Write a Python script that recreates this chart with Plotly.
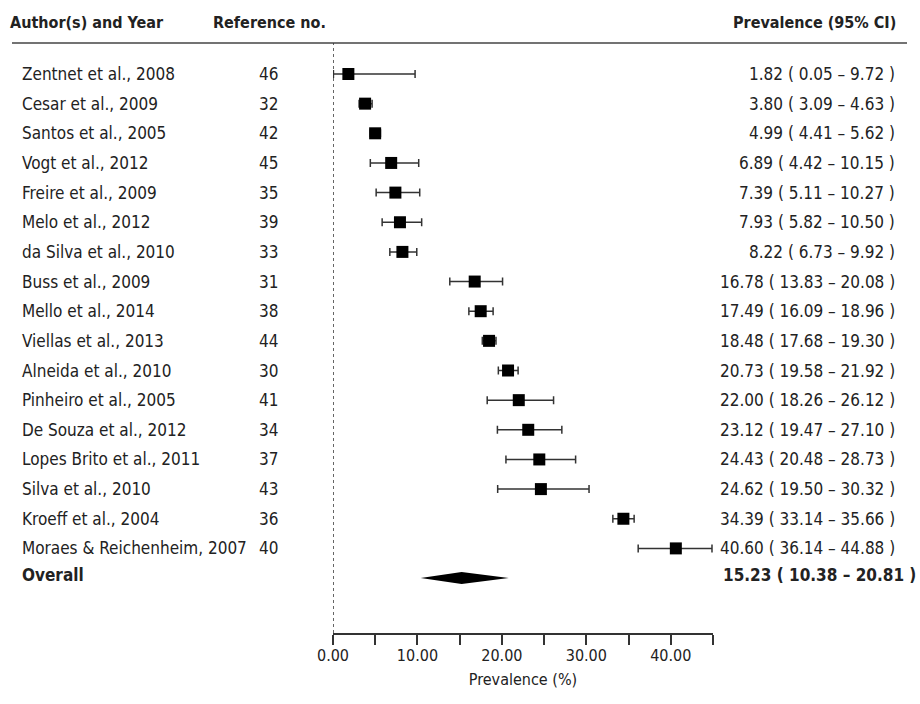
import plotly.graph_objects as go

authors = ["Zentnet et al., 2008", "Cesar et al., 2009", "Santos et al., 2005", "Vogt et al., 2012",
           "Freire et al., 2009", "Melo et al., 2012", "da Silva et al., 2010", "Buss et al., 2009",
           "Mello et al., 2014", "Viellas et al., 2013", "Alneida et al., 2010", "Pinheiro et al., 2005",
           "De Souza et al., 2012", "Lopes Brito et al., 2011", "Silva et al., 2010", "Kroeff et al., 2004",
           "Moraes & Reichenheim, 2007"]
ref_no = [46, 32, 42, 45, 35, 39, 33, 31, 38, 44, 30, 41, 34, 37, 43, 36, 40]
prev = [1.82, 3.80, 4.99, 6.89, 7.39, 7.93, 8.22, 16.78, 17.49, 18.48, 20.73, 22.00, 23.12, 24.43, 24.62, 34.39, 40.60]
ci_low = [0.05, 3.09, 4.41, 4.42, 5.11, 5.82, 6.73, 13.83, 16.09, 17.68, 19.58, 18.26, 19.47, 20.48, 19.50, 33.14, 36.14]
ci_high = [9.72, 4.63, 5.62, 10.15, 10.27, 10.50, 9.92, 20.08, 18.96, 19.30, 21.92, 26.12, 27.10, 28.73, 30.32, 35.66, 44.88]
overall = [15.23, 10.38, 20.81]  # estimate, low, high
tick_values = [0, 5, 10, 15, 20, 25, 30, 35, 40, 45]
tick_labels = ["0.00", "", "10.00", "", "20.00", "", "30.00", "", "40.00", ""]

W, H = 920, 704
TOP, BOTTOM = 43, 633  # plot area edges in px
FONT = "DejaVu Sans Condensed, Liberation Sans Narrow, sans-serif"
TXT = "#222222"
rows = list(range(len(authors)))
overall_row = len(authors)

fig = go.Figure()
fig.add_trace(go.Scatter(
    x=prev, y=rows, mode="markers",
    marker=dict(symbol="square", size=12, color="black"),
    error_x=dict(type="data", symmetric=False,
                 array=[h - p for h, p in zip(ci_high, prev)],
                 arrayminus=[p - l for p, l in zip(prev, ci_low)],
                 color="#333333", thickness=1.5, width=4),
    showlegend=False, hoverinfo="skip"))

est, lo, hi = overall
dh = 0.2
fig.add_trace(go.Scatter(
    x=[lo, est, hi, est, lo], y=[overall_row, overall_row - dh, overall_row, overall_row + dh, overall_row],
    mode="lines", fill="toself", fillcolor="black", line=dict(width=0, color="black"),
    showlegend=False, hoverinfo="skip"))

ann = []
def add(text, px, y, anchor, bold=False, size=17, yshift=0, yref="y"):
    ann.append(dict(text=f"<b>{text}</b>" if bold else text, x=px / W, xref="paper", y=y, yref=yref,
                    xanchor=anchor, yanchor="middle", showarrow=False, yshift=yshift,
                    font=dict(family=FONT, size=size, color=TXT)))

for i in rows:
    add(authors[i], 20, i, "left")
    add(str(ref_no[i]), 268, i, "center")
    add(f"{prev[i]:.2f} ( {ci_low[i]:.2f} – {ci_high[i]:.2f} )", 897, i, "right")
add("Overall", 20, overall_row, "left", bold=True, yshift=3)
add(f"{est:.2f} ( {lo:.2f} – {hi:.2f} )", 918, overall_row, "right", bold=True, yshift=3)

hdr_y = 1 + (TOP - 22) / (BOTTOM - TOP)
add("Author(s) and Year", 8, hdr_y, "left", bold=True, size=16, yref="paper")
add("Reference no.", 211, hdr_y, "left", bold=True, size=16, yref="paper")
add("Prevalence (95% CI)", 898, hdr_y, "right", bold=True, size=16, yref="paper")

fig.update_layout(
    width=W, height=H, autosize=False,
    margin=dict(l=0, r=0, t=TOP, b=H - BOTTOM, pad=0),
    paper_bgcolor="white", plot_bgcolor="white",
    annotations=ann,
    shapes=[
        dict(type="line", xref="paper", yref="paper", x0=12 / W, x1=907 / W, y0=1, y1=1,
             line=dict(color="#444444", width=1.5)),
        dict(type="line", xref="x", yref="paper", x0=0, x1=0, y0=0, y1=1,
             line=dict(color="#333333", width=1.5, dash="dot")),
    ],
    xaxis=dict(domain=[333 / W, 713 / W], range=[0, 45], showgrid=False, zeroline=False,
               showline=True, linecolor="#333333", linewidth=1.5, automargin=False,
               ticks="outside", ticklen=10, tickwidth=1.5, tickcolor="#333333",
               tickvals=tick_values, ticktext=tick_labels, ticklabelstandoff=-3,
               tickfont=dict(family=FONT, size=16, color=TXT),
               title=dict(text="Prevalence (%)", font=dict(family=FONT, size=16, color=TXT), standoff=10)),
    yaxis=dict(visible=False, range=[(BOTTOM - 74) / 29.65, (TOP - 74) / 29.65], automargin=False),
)
fig.write_html("out.html", config={"responsive": False, "displayModeBar": False},
               post_script="document.body.style.margin='0px';")
